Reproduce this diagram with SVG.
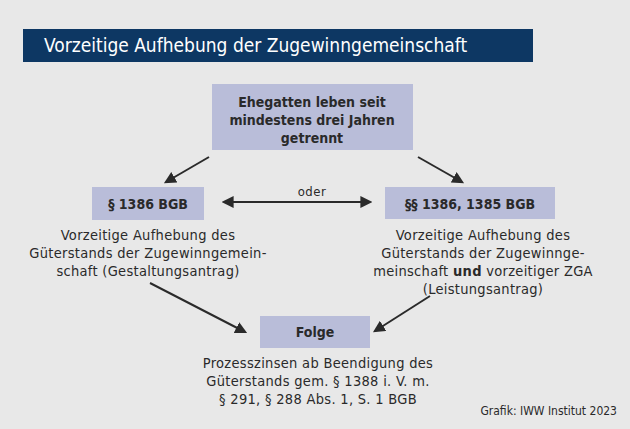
<svg xmlns="http://www.w3.org/2000/svg" width="630" height="429" viewBox="0 0 630 429">
<defs>
<style>
text{font-family:"DejaVu Sans Condensed","Liberation Sans Narrow","Liberation Sans",sans-serif;fill:#2a2a2a}
.box{fill:#b9bdd9}
.b{font-weight:bold;font-size:14px}
.t{font-size:14.5px;letter-spacing:0.3px}
.c{stroke:#2a2a2a;stroke-width:2;fill:none;marker-end:url(#a)}
</style>
<marker id="a" viewBox="0 0 10 10" refX="8" refY="5" markerWidth="6" markerHeight="6" orient="auto-start-reverse"><path d="M0,0 L10,5 L0,10 z" fill="#2a2a2a"/></marker>
</defs>
<rect width="630" height="429" fill="#e8e8e8"/>
<g id="title"><rect x="23" y="29" width="510" height="33" fill="#0d3763"/>
<text x="44" y="52" style="font-size:19px;fill:#fff">Vorzeitige Aufhebung der Zugewinngemeinschaft</text></g>
<g id="top"><rect class="box" x="212" y="84" width="201" height="66"/>
<text class="b" text-anchor="middle" x="312" y="107">Ehegatten leben seit</text>
<text class="b" text-anchor="middle" x="312" y="125">mindestens drei Jahren</text>
<text class="b" text-anchor="middle" x="312" y="143">getrennt</text></g>
<g id="left"><rect class="box" x="92" y="187" width="112" height="33"/>
<text class="b" text-anchor="middle" x="148" y="209">§ 1386 BGB</text>
<text class="t" text-anchor="middle" x="148" y="240">Vorzeitige Aufhebung des</text>
<text class="t" text-anchor="middle" x="148" y="258">Güterstands der Zugewinngemein-</text>
<text class="t" text-anchor="middle" x="148" y="276">schaft (Gestaltungsantrag)</text></g>
<g id="right"><rect class="box" x="385" y="187" width="170" height="32"/>
<text class="b" text-anchor="middle" x="470" y="209">§§ 1386, 1385 BGB</text>
<text class="t" text-anchor="middle" x="483" y="240">Vorzeitige Aufhebung des</text>
<text class="t" text-anchor="middle" x="483" y="258">Güterstands der Zugewinnge-</text>
<text class="t" text-anchor="middle" x="483" y="276">meinschaft <tspan font-weight="bold">und</tspan> vorzeitiger ZGA</text>
<text class="t" text-anchor="middle" x="483" y="294">(Leistungsantrag)</text></g>
<g id="folge"><rect class="box" x="260" y="316" width="110" height="32"/>
<text class="b" text-anchor="middle" x="315" y="337">Folge</text>
<text class="t" text-anchor="middle" x="318" y="368">Prozesszinsen ab Beendigung des</text>
<text class="t" text-anchor="middle" x="318" y="386">Güterstands gem. § 1388 i. V. m.</text>
<text class="t" text-anchor="middle" x="318" y="404">§ 291, § 288 Abs. 1, S. 1 BGB</text></g>
<text x="617" y="415" text-anchor="end" style="font-size:12px">Grafik: IWW Institut 2023</text>
<g id="connectors">
<path class="c" d="M209,157 L166,182"/>
<path class="c" d="M418,157 L462,182"/>
<path class="c" d="M224,202 L370,202" marker-start="url(#a)"/>
<text x="312" y="196" text-anchor="middle" style="font-size:13px;letter-spacing:0.5px">oder</text>
<path class="c" d="M150,283 L245,332"/>
<path class="c" d="M430,296 L375,331"/>
</g>
</svg>
